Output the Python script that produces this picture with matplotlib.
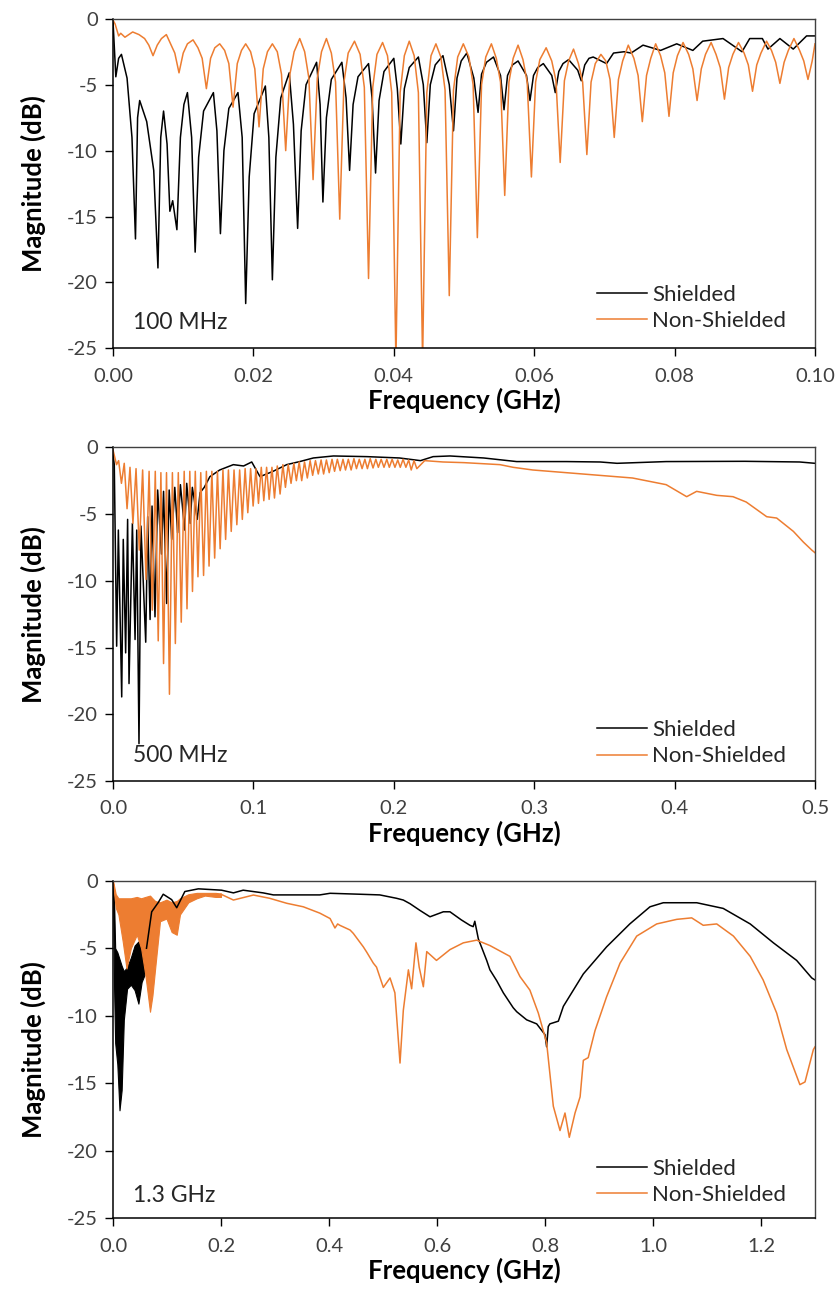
import numpy as np
import matplotlib
matplotlib.use("Agg")
import matplotlib.pyplot as plt

# ---------------- data ----------------
# Panel 1: 0 - 100 MHz sweep
p1_sh_f = [0.0000, 0.0004, 0.0008, 0.0012, 0.0032, 0.0038, 0.0064, 0.0072, 0.0081, 0.0085,
           0.0091, 0.0106, 0.0117, 0.0143, 0.0153, 0.0178, 0.0189, 0.0217, 0.0227, 0.0251,
           0.0263, 0.0290, 0.0299, 0.0326, 0.0337, 0.0364, 0.0374, 0.0400, 0.0410, 0.0435,
           0.0447, 0.0470, 0.0485, 0.0504, 0.0520, 0.0542, 0.0557, 0.0577, 0.0594, 0.0613,
           0.0630, 0.0649, 0.0667, 0.0684, 0.0703, 0.0713, 0.0728, 0.0738, 0.0755, 0.0780,
           0.0803, 0.0826, 0.0840, 0.0869, 0.0896, 0.0907, 0.0925, 0.0933, 0.0950, 0.0969,
           0.0988, 0.1000]
p1_sh_db = [-0.2, -4.4, -3.0, -2.7, -16.7, -6.2, -18.9, -7.0, -14.6, -13.8,
            -16.0, -5.6, -17.7, -5.6, -16.3, -5.6, -21.6, -5.1, -19.8, -4.1,
            -15.9, -3.3, -13.9, -3.3, -11.5, -3.4, -11.7, -3.0, -9.5, -2.9,
            -9.4, -2.8, -8.5, -2.6, -7.1, -2.9, -6.9, -3.2, -6.2, -3.4,
            -5.6, -3.1, -4.7, -2.9, -3.4, -2.6, -2.5, -2.6, -2.0, -2.4,
            -1.9, -2.4, -1.7, -1.5, -2.5, -1.5, -1.5, -2.3, -1.5, -2.3,
            -1.3, -1.3]
# flanks of the shielded notches (steep fall into a notch, quick recovery after it)
p1_sh_flank_f = [0.0020, 0.0027, 0.0035, 0.0048, 0.0058, 0.0068, 0.0077, 0.0096, 0.0101, 0.0112,
                 0.0122, 0.0129, 0.0148, 0.0158, 0.0165, 0.0184, 0.0194, 0.0201, 0.0222, 0.0232,
                 0.0239, 0.0257, 0.0268, 0.0275, 0.0295, 0.0304, 0.0311, 0.0332, 0.0342, 0.0349,
                 0.0369, 0.0379, 0.0386, 0.0405, 0.0415, 0.0422, 0.0442, 0.0452, 0.0459, 0.0479,
                 0.0490, 0.0496, 0.0514, 0.0525, 0.0532, 0.0552, 0.0562, 0.0569, 0.0589, 0.0599,
                 0.0605, 0.0625, 0.0635, 0.0641, 0.0662, 0.0672, 0.0678]
p1_sh_flank_db = [-4.5, -9.0, -7.5, -7.8, -11.5, -9.0, -9.5, -9.0, -6.5, -9.0,
                  -10.5, -7.0, -8.5, -10.0, -6.8, -9.0, -12.0, -7.2, -9.0, -10.5,
                  -6.0, -8.0, -8.5, -5.0, -6.5, -7.5, -4.6, -6.0, -6.5, -4.4,
                  -6.0, -6.2, -4.0, -5.3, -5.3, -3.7, -5.0, -5.0, -3.5, -5.0,
                  -4.5, -3.2, -4.5, -4.2, -3.3, -4.3, -4.3, -3.5, -4.3, -4.3,
                  -3.7, -4.3, -4.0, -3.4, -3.9, -3.5, -3.0]

p1_nsh_f = [0.0000, 0.0003, 0.0008, 0.0011, 0.0017, 0.0028, 0.0037, 0.0057, 0.0076, 0.0094,
            0.0114, 0.0133, 0.0152, 0.0171, 0.0189, 0.0208, 0.0227, 0.0246, 0.0266, 0.0285,
            0.0304, 0.0323, 0.0344, 0.0364, 0.0384, 0.0403, 0.0422, 0.0441, 0.0460, 0.0479,
            0.0499, 0.0519, 0.0539, 0.0558, 0.0577, 0.0596, 0.0617, 0.0637, 0.0656, 0.0675,
            0.0695, 0.0714, 0.0734, 0.0754, 0.0773, 0.0792, 0.0812, 0.0832, 0.0852, 0.0871,
            0.0891, 0.0911, 0.0931, 0.0950, 0.0970, 0.0990, 0.1000]
p1_nsh_db = [-0.1, -0.4, -1.3, -1.1, -1.4, -1.0, -1.2, -2.8, -1.2, -4.1,
             -1.6, -5.3, -1.9, -6.7, -1.9, -8.2, -1.9, -10.0, -1.5, -12.2,
             -1.5, -15.2, -1.7, -19.7, -1.8, -26.0, -1.7, -26.0, -1.9, -21.0,
             -1.9, -16.6, -1.9, -13.4, -2.0, -12.0, -2.2, -10.9, -2.3, -10.3,
             -2.7, -9.0, -2.0, -7.8, -1.9, -7.4, -1.8, -6.2, -1.8, -6.1,
             -1.8, -5.5, -1.7, -4.9, -1.5, -4.6, -1.9]
# flanks of the non-shielded notches: outer and inner reading on each side of every notch
p1_nsh_flank_f = [0.0045, 0.0051, 0.0063, 0.0069, 0.0082, 0.0088, 0.0100, 0.0106,
                  0.0121, 0.0127, 0.0139, 0.0145, 0.0159, 0.0165, 0.0177, 0.0183,
                  0.0196, 0.0202, 0.0214, 0.0220, 0.0234, 0.0240, 0.0252, 0.0258,
                  0.0273, 0.0279, 0.0291, 0.0297, 0.0311, 0.0317, 0.0329, 0.0335,
                  0.0352, 0.0358, 0.0370, 0.0376, 0.0391, 0.0397, 0.0409, 0.0415,
                  0.0429, 0.0435, 0.0447, 0.0453, 0.0467, 0.0473, 0.0485, 0.0491,
                  0.0507, 0.0513, 0.0525, 0.0531, 0.0546, 0.0552, 0.0564, 0.0570,
                  0.0584, 0.0590, 0.0602, 0.0608, 0.0625, 0.0631, 0.0643, 0.0649,
                  0.0663, 0.0669, 0.0681, 0.0687, 0.0702, 0.0708, 0.0720, 0.0726,
                  0.0742, 0.0748, 0.0760, 0.0766, 0.0780, 0.0786, 0.0798, 0.0804,
                  0.0820, 0.0826, 0.0838, 0.0844, 0.0859, 0.0865, 0.0877, 0.0883,
                  0.0899, 0.0905, 0.0917, 0.0923, 0.0938, 0.0944, 0.0956, 0.0962,
                  0.0978, 0.0984, 0.0996]
p1_nsh_flank_db = [-1.5, -2.0, -2.0, -1.5, -1.9, -2.6, -2.6, -1.9,
                   -2.2, -3.0, -3.0, -2.2, -2.4, -3.4, -3.4, -2.4,
                   -2.5, -3.8, -3.8, -2.5, -2.5, -4.2, -4.2, -2.5,
                   -2.5, -4.5, -4.5, -2.5, -2.6, -4.8, -4.8, -2.6,
                   -2.7, -5.2, -5.2, -2.7, -2.8, -5.6, -5.6, -2.8,
                   -2.8, -5.6, -5.6, -2.8, -2.9, -5.4, -5.4, -2.9,
                   -2.9, -5.0, -5.0, -2.9, -3.0, -4.8, -4.8, -3.0,
                   -3.1, -4.8, -4.8, -3.1, -3.2, -4.7, -4.7, -3.2,
                   -3.4, -4.8, -4.8, -3.4, -3.2, -4.6, -4.6, -3.2,
                   -3.0, -4.3, -4.3, -3.0, -2.8, -4.1, -4.1, -2.8,
                   -2.7, -3.8, -3.8, -2.7, -2.7, -3.7, -3.7, -2.7,
                   -2.6, -3.5, -3.5, -2.6, -2.4, -3.3, -3.3, -2.4,
                   -2.4, -3.2, -3.2]

# Panel 2: 0 - 500 MHz sweep
p2_sh_f = [0.0000, 0.0009, 0.0026, 0.0038, 0.0062, 0.0073, 0.0090, 0.0104, 0.0114, 0.0138,
           0.0157, 0.0169, 0.0185, 0.0199, 0.0233, 0.0247, 0.0264, 0.0278, 0.0299, 0.0318,
           0.0345, 0.0360, 0.0382, 0.0400, 0.0418, 0.0440, 0.0460, 0.0480, 0.0510, 0.0525,
           0.0550, 0.0565, 0.0600, 0.0620, 0.0650, 0.0690, 0.0760, 0.0857, 0.0930, 0.0988,
           0.1047, 0.1140, 0.1237, 0.1330, 0.1427, 0.1570, 0.1810, 0.2040, 0.2190, 0.2280,
           0.2400, 0.2640, 0.2875, 0.3230, 0.3470, 0.3590, 0.3940, 0.4500, 0.4890, 0.5000]
p2_sh_db = [-0.5, -1.3, -14.9, -6.2, -18.7, -6.9, -15.4, -5.4, -17.7, -5.7,
            -14.4, -6.2, -22.2, -5.9, -14.6, -5.2, -12.9, -4.4, -12.7, -3.2,
            -8.0, -3.3, -11.7, -3.2, -6.9, -3.0, -6.4, -2.8, -6.2, -2.7,
            -5.7, -3.0, -5.4, -3.4, -3.0, -2.2, -1.7, -1.3, -1.4, -1.1,
            -2.2, -1.8, -1.3, -1.07, -0.8, -0.65, -0.7, -0.8, -1.0, -0.7,
            -0.65, -0.8, -1.07, -1.07, -1.1, -1.2, -1.07, -1.05, -1.1, -1.2]

p2_nsh_dip_f = [0.0025, 0.0060, 0.0100, 0.0142, 0.0187, 0.0235, 0.0280, 0.0322, 0.0360, 0.0402,
                0.0444, 0.0486, 0.0527, 0.0566, 0.0605, 0.0645, 0.0684, 0.0724, 0.0763, 0.0802,
                0.0842, 0.0882, 0.0921, 0.0960, 0.0998, 0.1036, 0.1074, 0.1112, 0.1150, 0.1190,
                0.1228, 0.1268, 0.1306, 0.1344, 0.1384, 0.1422, 0.1462, 0.1500, 0.1540, 0.1578,
                0.1618, 0.1656, 0.1696, 0.1734, 0.1774, 0.1812, 0.1852, 0.1890, 0.1930, 0.1968,
                0.2008, 0.2046, 0.2086, 0.2124, 0.2164]
p2_nsh_dip_db = [-1.3, -2.7, -4.6, -5.7, -7.7, -9.9, -12.2, -14.5, -16.2, -18.5,
                 -14.7, -13.1, -12.1, -10.8, -9.7, -9.6, -8.9, -8.3, -7.6, -6.9,
                 -6.3, -5.8, -5.4, -4.9, -4.4, -4.2, -4.0, -3.9, -3.8, -3.5,
                 -3.0, -2.7, -2.5, -2.5, -2.3, -2.1, -2.0, -2.0, -1.9, -1.8,
                 -1.75, -1.7, -1.7, -1.6, -1.6, -1.6, -1.55, -1.5, -1.5, -1.5,
                 -1.5, -1.5, -1.5, -1.7, -1.6]
p2_nsh_peak_f = [0.0000, 0.0040, 0.0080, 0.0121, 0.0164, 0.0211, 0.0257, 0.0301, 0.0341, 0.0381,
                 0.0423, 0.0465, 0.0507, 0.0547, 0.0586, 0.0625, 0.0665, 0.0704, 0.0744, 0.0783,
                 0.0822, 0.0862, 0.0902, 0.0941, 0.0980, 0.1018, 0.1056, 0.1094, 0.1132, 0.1170,
                 0.1210, 0.1248, 0.1288, 0.1326, 0.1364, 0.1404, 0.1442, 0.1482, 0.1520, 0.1560,
                 0.1598, 0.1638, 0.1676, 0.1716, 0.1754, 0.1794, 0.1832, 0.1872, 0.1910, 0.1950,
                 0.1988, 0.2028, 0.2066, 0.2106, 0.2144, 0.2220, 0.2350, 0.2500, 0.2756, 0.2850,
                 0.2990, 0.3230, 0.3470, 0.3700, 0.3940, 0.4086, 0.4157, 0.4300, 0.4416, 0.4510,
                 0.4656, 0.4727, 0.4846, 0.4917, 0.4977, 0.5000]
p2_nsh_peak_db = [-0.2, -1.0, -1.2, -1.5, -1.6, -1.7, -1.8, -1.8, -1.9, -1.9,
                  -1.9, -1.9, -1.8, -1.8, -1.8, -1.9, -1.8, -1.8, -1.8, -1.7,
                  -1.7, -1.7, -1.7, -1.6, -1.6, -1.6, -1.5, -1.5, -1.5, -1.4,
                  -1.3, -1.3, -1.2, -1.1, -1.1, -1.0, -1.0, -0.95, -0.95, -0.9,
                  -0.9, -0.9, -0.9, -0.85, -0.9, -0.9, -0.85, -0.9, -0.9, -0.9,
                  -0.9, -0.95, -0.9, -0.95, -1.0, -1.0, -1.1, -1.15, -1.3, -1.5,
                  -1.7, -1.9, -2.1, -2.3, -2.8, -3.7, -3.3, -3.6, -3.7, -4.1,
                  -5.2, -5.3, -6.3, -7.1, -7.7, -7.9]

# Panel 3: 0 - 1.3 GHz sweep (dense ripple below 0.2 GHz shown as a band)
p3_sh_band_f = [0.000, 0.002, 0.004, 0.008, 0.012, 0.016, 0.020, 0.026, 0.033, 0.040,
                0.047, 0.053, 0.058, 0.062]
p3_sh_band_hi = [-0.3, -1.5, -5.0, -5.3, -5.8, -6.3, -6.7, -6.4, -5.7, -4.8,
                 -4.5, -5.0, -6.0, -5.0]
p3_sh_band_lo = [-0.3, -8.0, -12.0, -13.6, -17.0, -15.5, -10.3, -8.0, -7.7, -8.1,
                 -9.1, -7.5, -7.0, -5.0]
p3_sh_f = [0.062, 0.0716, 0.084, 0.093, 0.1086, 0.118, 0.133, 0.158, 0.201, 0.223,
           0.241, 0.278, 0.297, 0.383, 0.402, 0.457, 0.494, 0.525, 0.5376, 0.550,
           0.5685, 0.587, 0.6117, 0.624, 0.645, 0.661, 0.667, 0.670, 0.6765, 0.692,
           0.698, 0.7105, 0.7228, 0.741, 0.7476, 0.766, 0.7846, 0.800, 0.803, 0.806,
           0.809, 0.8247, 0.834, 0.871, 0.914, 0.957, 0.9944, 1.019, 1.081, 1.130,
           1.180, 1.223, 1.266, 1.294, 1.300]
p3_sh_db = [-5.0, -2.3, -1.6, -1.0, -1.4, -2.0, -0.8, -0.6, -0.7, -0.9,
            -0.7, -0.9, -1.05, -1.05, -0.93, -1.0, -1.05, -1.3, -1.43, -1.7,
            -2.2, -2.67, -2.3, -2.3, -2.9, -3.3, -3.4, -3.0, -4.3, -5.9,
            -6.6, -7.4, -8.3, -9.4, -9.7, -10.3, -10.6, -11.4, -12.3, -10.8,
            -10.6, -10.4, -9.3, -6.9, -4.9, -3.2, -1.93, -1.63, -1.63, -2.05,
            -3.2, -4.6, -5.9, -7.2, -7.35]

p3_nsh_band_f = [0.000, 0.005, 0.010, 0.018, 0.025, 0.033, 0.044, 0.052, 0.060, 0.0685,
                 0.073, 0.078, 0.087, 0.099, 0.1086, 0.118, 0.124, 0.1395, 0.155, 0.170,
                 0.190, 0.200]
p3_nsh_band_hi = [0.0, -1.0, -1.3, -1.3, -1.3, -1.3, -1.2, -1.3, -1.2, -1.1,
                  -1.3, -1.5, -1.6, -1.4, -1.6, -1.5, -1.3, -1.0, -0.9, -0.9,
                  -0.9, -0.95]
p3_nsh_band_lo = [-0.2, -2.0, -2.5, -4.5, -6.5, -5.0, -4.0, -5.0, -7.0, -9.7,
                  -8.5, -6.5, -3.0, -2.8, -3.8, -4.0, -2.5, -1.6, -1.3, -1.1,
                  -1.2, -1.2]
p3_nsh_f = [0.200, 0.223, 0.260, 0.290, 0.3217, 0.3524, 0.383, 0.402, 0.411, 0.416,
            0.420, 0.439, 0.445, 0.4636, 0.470, 0.482, 0.488, 0.5006, 0.513, 0.522,
            0.5315, 0.5376, 0.547, 0.553, 0.561, 0.567, 0.5747, 0.581, 0.599, 0.624,
            0.6487, 0.6735, 0.698, 0.735, 0.7537, 0.772, 0.7876, 0.803, 0.8154, 0.8278,
            0.837, 0.845, 0.8556, 0.865, 0.871, 0.880, 0.8926, 0.914, 0.939, 0.9698,
            1.0068, 1.044, 1.0716, 1.093, 1.118, 1.149, 1.180, 1.204, 1.229, 1.2476,
            1.272, 1.2815, 1.297, 1.300]
p3_nsh_db = [-1.0, -1.43, -1.06, -1.3, -1.67, -1.93, -2.4, -2.8, -3.5, -3.2,
             -3.3, -3.65, -3.9, -4.9, -5.3, -6.1, -6.4, -7.9, -7.2, -8.3,
             -13.5, -9.6, -6.6, -8.0, -4.6, -6.4, -7.85, -5.25, -5.9, -5.1,
             -4.6, -4.4, -4.8, -5.6, -7.1, -8.1, -9.8, -12.0, -16.7, -18.5,
             -17.2, -19.0, -17.2, -16.0, -13.3, -13.1, -11.1, -8.6, -6.1, -4.1,
             -3.2, -2.86, -2.75, -3.3, -3.2, -4.1, -5.6, -7.35, -9.8, -12.5,
             -15.1, -14.9, -12.5, -12.3]

# ---------------- styling ----------------
SH_COLOR = "#000000"
NSH_COLOR = "#ED7D31"
FONT = ["Lato", "DejaVu Sans"]

plt.rcParams["font.family"] = FONT
plt.rcParams["axes.unicode_minus"] = False


def style_axes(ax, xmax, xticks, fmt, tag, tag_y, legend_y):
    """Excel-like axis look: box, outside ticks, bold labels."""
    ax.set_xlim(0, xmax)
    ax.set_ylim(-25, 0)
    ax.set_xticks(xticks)
    ax.set_xticklabels([fmt.format(t) for t in xticks])
    ax.set_yticks([0, -5, -10, -15, -20, -25])
    ax.set_yticklabels(["0", "-5", "-10", "-15", "-20", "-25"])
    ax.tick_params(direction="out", length=6, width=1.0, labelsize=14.5,
                   colors="#000000", labelcolor="#404040")
    ax.tick_params(axis="x", pad=8)
    ax.tick_params(axis="y", pad=5)
    for side in ["left", "bottom"]:
        ax.spines[side].set_color("#000000")
        ax.spines[side].set_linewidth(1.1)
    for side in ["top", "right"]:
        ax.spines[side].set_color("#404040")
        ax.spines[side].set_linewidth(1.0)
    ax.set_xlabel("Frequency (GHz)", fontsize=18.5, fontweight="bold", labelpad=2)
    ax.set_ylabel("Magnitude (dB)", fontsize=18.5, fontweight="bold", labelpad=15)
    ax.text(0.028, tag_y, tag, transform=ax.transAxes, fontsize=16.5,
            color="#262626", ha="left", va="center")
    leg = ax.legend(loc="lower left", bbox_to_anchor=(0.69, legend_y), frameon=False,
                    fontsize=16, handlelength=2.25, handletextpad=0.2,
                    labelspacing=0.3, borderpad=0, borderaxespad=0)
    for t in leg.get_texts():
        t.set_color("#262626")


def merge(*pairs):
    """Merge several (freq, dB) readings into one frequency-ordered trace."""
    f = np.concatenate([np.asarray(p[0], float) for p in pairs])
    db = np.concatenate([np.asarray(p[1], float) for p in pairs])
    order = np.argsort(f, kind="stable")
    return f[order], db[order]


def main():
    fig = plt.figure(figsize=(8.39, 12.95), dpi=100)
    ax1 = fig.add_axes([0.1347, 0.7310, 0.8367, 0.2545])
    ax2 = fig.add_axes([0.1347, 0.3969, 0.8367, 0.2577])
    ax3 = fig.add_axes([0.1347, 0.0592, 0.8367, 0.2607])

    # Panel 1
    f, db = merge((p1_sh_f, p1_sh_db), (p1_sh_flank_f, p1_sh_flank_db))
    ax1.plot(f, db, color=SH_COLOR, lw=1.1, label="Shielded")
    f, db = merge((p1_nsh_f, p1_nsh_db), (p1_nsh_flank_f, p1_nsh_flank_db))
    ax1.plot(f, db, color=NSH_COLOR, lw=1.1, label="Non-Shielded")
    style_axes(ax1, 0.1, [0, 0.02, 0.04, 0.06, 0.08, 0.10], "{:.2f}", "100 MHz", 0.077, 0.052)

    # Panel 2
    ax2.plot(p2_sh_f, p2_sh_db, color=SH_COLOR, lw=1.1, label="Shielded")
    f, db = merge((p2_nsh_peak_f, p2_nsh_peak_db), (p2_nsh_dip_f, p2_nsh_dip_db))
    ax2.plot(f, db, color=NSH_COLOR, lw=1.1, label="Non-Shielded")
    style_axes(ax2, 0.5, [0, 0.1, 0.2, 0.3, 0.4, 0.5], "{:.1f}", "500 MHz", 0.075, 0.044)

    # Panel 3
    ax3.fill_between(p3_sh_band_f, p3_sh_band_lo, p3_sh_band_hi, color=SH_COLOR, lw=0.8)
    ax3.plot(p3_sh_f, p3_sh_db, color=SH_COLOR, lw=1.1, label="Shielded")
    ax3.fill_between(p3_nsh_band_f, p3_nsh_band_lo, p3_nsh_band_hi, color=NSH_COLOR, lw=0.8)
    ax3.plot(p3_nsh_f, p3_nsh_db, color=NSH_COLOR, lw=1.1, label="Non-Shielded")
    style_axes(ax3, 1.3, [0, 0.2, 0.4, 0.6, 0.8, 1.0, 1.2], "{:.1f}", "1.3 GHz", 0.069, 0.039)

    fig.savefig("out.png", dpi=100)
    plt.close(fig)


if __name__ == "__main__":
    main()
